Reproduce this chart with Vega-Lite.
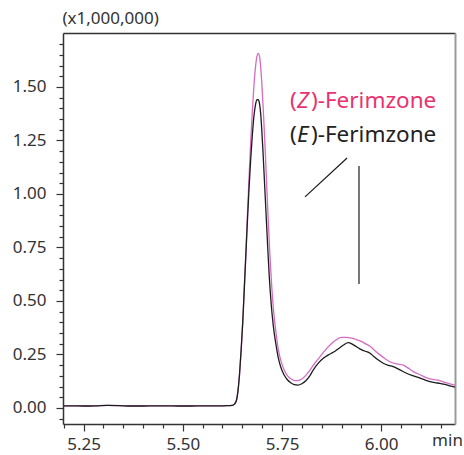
{
  "$schema": "https://vega.github.io/schema/vega-lite/v6.json",
  "width": 392,
  "height": 391,
  "autosize": {"type": "none"},
  "padding": {"left": 63, "top": 33, "right": 9, "bottom": 31},
  "background": "white",
  "config": {"view": {"stroke": null}, "font": "Noto Sans", "axis": {"grid": false}},
  "datasets": {
    "trace": [
      {"s":"Z","t":5.198,"v":0.010},{"s":"Z","t":5.22,"v":0.010},{"s":"Z","t":5.25,"v":0.009},{"s":"Z","t":5.28,"v":0.010},{"s":"Z","t":5.31,"v":0.012},{"s":"Z","t":5.34,"v":0.011},{"s":"Z","t":5.37,"v":0.009},{"s":"Z","t":5.40,"v":0.009},{"s":"Z","t":5.43,"v":0.010},{"s":"Z","t":5.46,"v":0.010},{"s":"Z","t":5.49,"v":0.009},{"s":"Z","t":5.52,"v":0.009},{"s":"Z","t":5.55,"v":0.010},{"s":"Z","t":5.58,"v":0.010},{"s":"Z","t":5.60,"v":0.010},{"s":"Z","t":5.615,"v":0.011},
      {"s":"Z","t":5.625,"v":0.012},{"s":"Z","t":5.630,"v":0.018},{"s":"Z","t":5.635,"v":0.035},{"s":"Z","t":5.639,"v":0.08},{"s":"Z","t":5.643,"v":0.16},{"s":"Z","t":5.647,"v":0.27},{"s":"Z","t":5.651,"v":0.40},{"s":"Z","t":5.655,"v":0.56},{"s":"Z","t":5.659,"v":0.73},{"s":"Z","t":5.663,"v":0.91},{"s":"Z","t":5.667,"v":1.08},{"s":"Z","t":5.671,"v":1.24},{"s":"Z","t":5.675,"v":1.38},{"s":"Z","t":5.679,"v":1.50},{"s":"Z","t":5.683,"v":1.59},{"s":"Z","t":5.687,"v":1.645},{"s":"Z","t":5.690,"v":1.657},{"s":"Z","t":5.693,"v":1.645},{"s":"Z","t":5.696,"v":1.60},{"s":"Z","t":5.699,"v":1.52},{"s":"Z","t":5.702,"v":1.42},{"s":"Z","t":5.705,"v":1.31},{"s":"Z","t":5.708,"v":1.19},{"s":"Z","t":5.711,"v":1.06},{"s":"Z","t":5.715,"v":0.89},{"s":"Z","t":5.719,"v":0.73},{"s":"Z","t":5.724,"v":0.57},{"s":"Z","t":5.729,"v":0.45},{"s":"Z","t":5.735,"v":0.35},{"s":"Z","t":5.741,"v":0.27},{"s":"Z","t":5.748,"v":0.215},{"s":"Z","t":5.756,"v":0.175},{"s":"Z","t":5.764,"v":0.150},{"s":"Z","t":5.773,"v":0.135},{"s":"Z","t":5.782,"v":0.128},{"s":"Z","t":5.790,"v":0.128},
      {"s":"Z","t":5.800,"v":0.135},{"s":"Z","t":5.810,"v":0.152},{"s":"Z","t":5.821,"v":0.178},{"s":"Z","t":5.833,"v":0.21},{"s":"Z","t":5.846,"v":0.240},{"s":"Z","t":5.858,"v":0.268},{"s":"Z","t":5.871,"v":0.294},{"s":"Z","t":5.885,"v":0.316},{"s":"Z","t":5.900,"v":0.330},{"s":"Z","t":5.913,"v":0.330},{"s":"Z","t":5.926,"v":0.326},{"s":"Z","t":5.938,"v":0.319},{"s":"Z","t":5.951,"v":0.310},{"s":"Z","t":5.962,"v":0.298},{"s":"Z","t":5.972,"v":0.288},{"s":"Z","t":5.985,"v":0.266},{"s":"Z","t":5.997,"v":0.248},{"s":"Z","t":6.010,"v":0.230},{"s":"Z","t":6.022,"v":0.216},{"s":"Z","t":6.039,"v":0.206},{"s":"Z","t":6.056,"v":0.200},{"s":"Z","t":6.068,"v":0.186},{"s":"Z","t":6.081,"v":0.170},{"s":"Z","t":6.098,"v":0.155},{"s":"Z","t":6.115,"v":0.140},{"s":"Z","t":6.130,"v":0.133},{"s":"Z","t":6.148,"v":0.128},{"s":"Z","t":6.160,"v":0.120},{"s":"Z","t":6.173,"v":0.112},{"s":"Z","t":6.186,"v":0.107},
      {"s":"E","t":5.198,"v":0.010},{"s":"E","t":5.22,"v":0.010},{"s":"E","t":5.25,"v":0.009},{"s":"E","t":5.28,"v":0.010},{"s":"E","t":5.31,"v":0.012},{"s":"E","t":5.34,"v":0.011},{"s":"E","t":5.37,"v":0.009},{"s":"E","t":5.40,"v":0.009},{"s":"E","t":5.43,"v":0.010},{"s":"E","t":5.46,"v":0.010},{"s":"E","t":5.49,"v":0.009},{"s":"E","t":5.52,"v":0.009},{"s":"E","t":5.55,"v":0.010},{"s":"E","t":5.58,"v":0.010},{"s":"E","t":5.60,"v":0.010},{"s":"E","t":5.615,"v":0.011},
      {"s":"E","t":5.625,"v":0.012},{"s":"E","t":5.630,"v":0.018},{"s":"E","t":5.635,"v":0.035},{"s":"E","t":5.639,"v":0.08},{"s":"E","t":5.643,"v":0.16},{"s":"E","t":5.647,"v":0.27},{"s":"E","t":5.651,"v":0.40},{"s":"E","t":5.655,"v":0.56},{"s":"E","t":5.659,"v":0.72},{"s":"E","t":5.663,"v":0.88},{"s":"E","t":5.667,"v":1.03},{"s":"E","t":5.671,"v":1.16},{"s":"E","t":5.675,"v":1.27},{"s":"E","t":5.679,"v":1.36},{"s":"E","t":5.683,"v":1.415},{"s":"E","t":5.687,"v":1.44},{"s":"E","t":5.690,"v":1.44},{"s":"E","t":5.693,"v":1.425},{"s":"E","t":5.696,"v":1.38},{"s":"E","t":5.699,"v":1.30},{"s":"E","t":5.702,"v":1.20},{"s":"E","t":5.706,"v":1.05},{"s":"E","t":5.710,"v":0.90},{"s":"E","t":5.714,"v":0.75},{"s":"E","t":5.718,"v":0.61},{"s":"E","t":5.723,"v":0.48},{"s":"E","t":5.728,"v":0.385},{"s":"E","t":5.734,"v":0.305},{"s":"E","t":5.740,"v":0.24},{"s":"E","t":5.747,"v":0.19},{"s":"E","t":5.755,"v":0.155},{"s":"E","t":5.763,"v":0.133},{"s":"E","t":5.772,"v":0.118},{"s":"E","t":5.781,"v":0.109},{"s":"E","t":5.790,"v":0.107},
      {"s":"E","t":5.800,"v":0.113},{"s":"E","t":5.810,"v":0.127},{"s":"E","t":5.820,"v":0.150},{"s":"E","t":5.829,"v":0.178},{"s":"E","t":5.841,"v":0.208},{"s":"E","t":5.854,"v":0.232},{"s":"E","t":5.866,"v":0.247},{"s":"E","t":5.879,"v":0.260},{"s":"E","t":5.892,"v":0.277},{"s":"E","t":5.905,"v":0.294},{"s":"E","t":5.917,"v":0.305},{"s":"E","t":5.928,"v":0.297},{"s":"E","t":5.937,"v":0.287},{"s":"E","t":5.946,"v":0.276},{"s":"E","t":5.958,"v":0.266},{"s":"E","t":5.972,"v":0.256},{"s":"E","t":5.980,"v":0.243},{"s":"E","t":5.992,"v":0.225},{"s":"E","t":6.005,"v":0.209},{"s":"E","t":6.018,"v":0.199},{"s":"E","t":6.030,"v":0.193},{"s":"E","t":6.047,"v":0.178},{"s":"E","t":6.064,"v":0.162},{"s":"E","t":6.081,"v":0.150},{"s":"E","t":6.098,"v":0.139},{"s":"E","t":6.110,"v":0.131},{"s":"E","t":6.123,"v":0.123},{"s":"E","t":6.135,"v":0.118},{"s":"E","t":6.148,"v":0.115},{"s":"E","t":6.160,"v":0.110},{"s":"E","t":6.173,"v":0.103},{"s":"E","t":6.186,"v":0.097}
    ],
    "notes": [
      {"t0": 5.808, "v0": 0.986, "t1": 5.914, "v1": 1.168},
      {"t0": 5.944, "v0": 1.131, "t1": 5.944, "v1": 0.579}
    ],
    "labels": [
      {"s": "Z", "t": 5.770, "v": 1.400, "open": "(", "letter": "Z", "close": ")-Ferimzone"},
      {"s": "E", "t": 5.770, "v": 1.244, "open": "(", "letter": "E", "close": ")-Ferimzone"}
    ]
  },
  "resolve": {"axis": {"x": "independent", "y": "independent"}, "scale": {"color": "independent"}},
  "layer": [
    {
      "data": {"name": "notes"},
      "mark": {"type": "rule", "color": "#1a1a1a", "strokeWidth": 1.2},
      "encoding": {
        "x": {"field": "t0", "type": "quantitative", "scale": {"domain": [5.198, 6.186], "nice": false, "zero": false},
          "axis": {"orient": "bottom", "values": [5.2,5.3,5.35,5.4,5.45,5.55,5.6,5.65,5.7,5.8,5.85,5.9,5.95,6.05,6.1,6.15], "labels": false, "domain": false, "tickSize": 4, "tickColor": "#333", "tickWidth": 1.2, "title": null}},
        "x2": {"field": "t1"},
        "y": {"field": "v0", "type": "quantitative", "scale": {"domain": [-0.075, 1.752], "nice": false, "zero": false},
          "axis": {"orient": "left", "values": [-0.05,0.05,0.1,0.15,0.2,0.3,0.35,0.4,0.45,0.55,0.6,0.65,0.7,0.8,0.85,0.9,0.95,1.05,1.1,1.15,1.2,1.3,1.35,1.4,1.45,1.55,1.6,1.65,1.7], "labels": false, "domain": false, "tickSize": 4, "tickColor": "#333", "tickWidth": 1.2, "title": null}},
        "y2": {"field": "v1"}
      }
    },
    {
      "data": {"name": "trace"},
      "mark": {"type": "line", "strokeWidth": 1.3, "clip": true, "interpolate": "monotone"},
      "encoding": {
        "x": {"field": "t", "type": "quantitative", "scale": {"domain": [5.198, 6.186], "nice": false, "zero": false},
          "axis": {"orient": "bottom", "values": [5.25, 5.5, 5.75, 6.0], "format": ".2f", "tickSize": 7, "tickColor": "#333", "tickWidth": 1.2, "domainColor": "#333", "domainWidth": 1.5, "labelFontSize": 17, "labelColor": "#333", "labelPadding": 5, "title": "min", "titleFontSize": 17, "titleFontWeight": "normal", "titleColor": "#333", "titleX": 384, "titleY": 16, "titleAlign": "center", "titleBaseline": "middle"}},
        "y": {"field": "v", "type": "quantitative", "scale": {"domain": [-0.075, 1.752], "nice": false, "zero": false},
          "axis": {"orient": "left", "values": [0, 0.25, 0.5, 0.75, 1.0, 1.25, 1.5], "format": ".2f", "tickSize": 7, "tickColor": "#333", "tickWidth": 1.2, "domainColor": "#333", "domainWidth": 1.5, "labelFontSize": 17, "labelColor": "#333", "labelPadding": 10, "title": "(x1,000,000)", "titleFontSize": 17, "titleFontWeight": "normal", "titleColor": "#333", "titleAngle": 0, "titleX": -1, "titleY": -15, "titleAlign": "left", "titleBaseline": "middle"}},
        "color": {"field": "s", "type": "nominal", "scale": {"domain": ["Z", "E"], "range": ["#d46cc4", "#1c1c1c"]}, "legend": null}
      }
    },
    {
      "data": {"name": "labels"},
      "mark": {"type": "text", "align": "left", "baseline": "alphabetic", "fontSize": 22.5, "dx": 0},
      "encoding": {
        "x": {"field": "t", "type": "quantitative", "scale": {"domain": [5.198, 6.186], "nice": false, "zero": false},
          "axis": {"orient": "top", "labels": false, "ticks": false, "domainColor": "#333", "domainWidth": 1.5, "title": null}},
        "y": {"field": "v", "type": "quantitative", "scale": {"domain": [-0.075, 1.752], "nice": false, "zero": false},
          "axis": {"orient": "right", "labels": false, "ticks": false, "domainColor": "#999", "domainWidth": 2, "title": null}},
        "text": {"field": "open"},
        "color": {"field": "s", "type": "nominal", "scale": {"domain": ["Z", "E"], "range": ["#e8336f", "#222222"]}, "legend": null}
      }
    },
    {
      "data": {"name": "labels"},
      "mark": {"type": "text", "align": "left", "baseline": "alphabetic", "fontSize": 22.5, "fontStyle": "italic", "dx": 7},
      "encoding": {
        "x": {"field": "t", "type": "quantitative", "axis": null},
        "y": {"field": "v", "type": "quantitative", "axis": null},
        "text": {"field": "letter"},
        "color": {"field": "s", "type": "nominal", "scale": {"domain": ["Z", "E"], "range": ["#e8336f", "#222222"]}, "legend": null}
      }
    },
    {
      "data": {"name": "labels"},
      "mark": {"type": "text", "align": "left", "baseline": "alphabetic", "fontSize": 22.5, "dx": 21},
      "encoding": {
        "x": {"field": "t", "type": "quantitative", "axis": null},
        "y": {"field": "v", "type": "quantitative", "axis": null},
        "text": {"field": "close"},
        "color": {"field": "s", "type": "nominal", "scale": {"domain": ["Z", "E"], "range": ["#e8336f", "#222222"]}, "legend": null}
      }
    }
  ]
}
